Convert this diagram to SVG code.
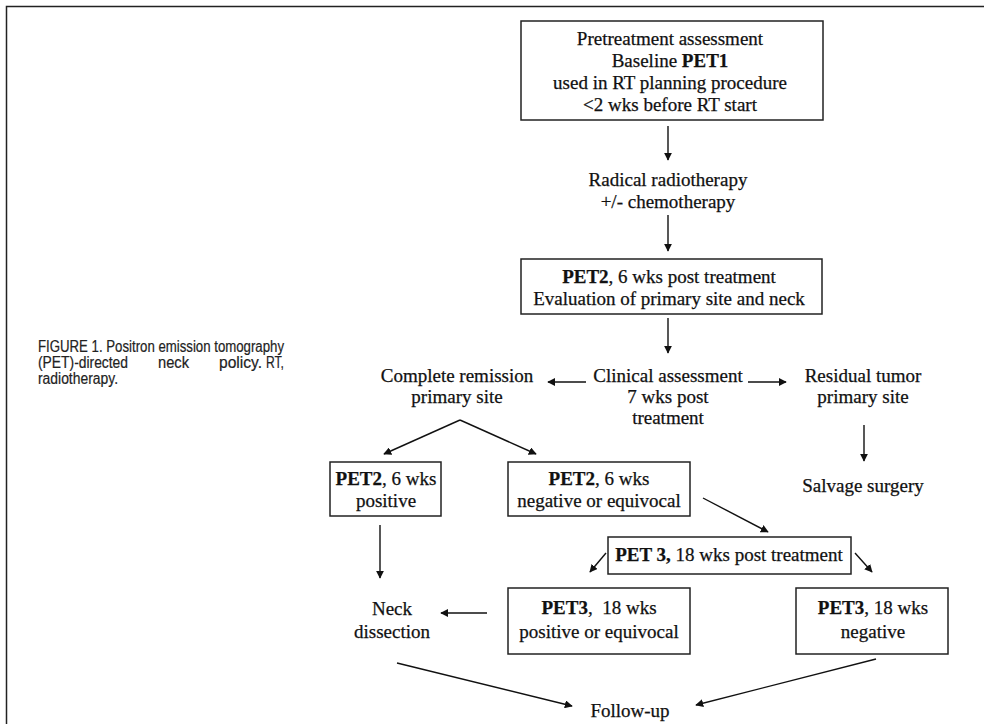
<svg xmlns="http://www.w3.org/2000/svg" width="984" height="724" viewBox="0 0 984 724">
<style>
.t{font-family:"Liberation Serif","Times New Roman",serif;font-size:19px;fill:#111;stroke:#111;stroke-width:0.25;text-anchor:middle}
.b{font-weight:bold}
.box{fill:#fff;stroke:#222;stroke-width:1.5}
.c{stroke:#111;stroke-width:1.4;fill:none}
.cap{font-family:"Liberation Sans",Arial,sans-serif;font-size:16px;fill:#222;stroke:#222;stroke-width:0.2}
</style>
<defs>
<marker id="ah" viewBox="0 0 10 10" refX="9" refY="5" markerWidth="8" markerHeight="8" markerUnits="userSpaceOnUse" orient="auto">
<path d="M0,0 L10,5 L0,10 Z" fill="#111"/>
</marker>
</defs>
<rect width="984" height="724" fill="#fff"/>
<g id="frame"><path d="M6.5,724 V6.5 H984" stroke="#222" stroke-width="1.5" fill="none"/></g>
<g id="caption" class="cap">
<text x="38" y="352" textLength="246" lengthAdjust="spacingAndGlyphs">FIGURE 1. Positron emission tomography</text>
<text x="38" y="368" textLength="90" lengthAdjust="spacingAndGlyphs">(PET)-directed</text>
<text x="158" y="368" textLength="31" lengthAdjust="spacingAndGlyphs">neck</text>
<text x="219" y="368" textLength="43" lengthAdjust="spacingAndGlyphs">policy.</text>
<text x="266" y="368" textLength="18" lengthAdjust="spacingAndGlyphs">RT,</text>
<text x="38" y="384" textLength="80" lengthAdjust="spacingAndGlyphs">radiotherapy.</text>
</g>
<g id="connectors">
<line class="c" x1="668" y1="126" x2="668" y2="160" marker-end="url(#ah)"/>
<line class="c" x1="668" y1="215" x2="668" y2="251" marker-end="url(#ah)"/>
<line class="c" x1="668" y1="318" x2="668" y2="353" marker-end="url(#ah)"/>
<line class="c" x1="586" y1="382" x2="548" y2="382" marker-end="url(#ah)"/>
<line class="c" x1="748" y1="382" x2="786" y2="382" marker-end="url(#ah)"/>
<line class="c" x1="864" y1="425" x2="864" y2="461" marker-end="url(#ah)"/>
<line class="c" x1="460" y1="420" x2="384" y2="454" marker-end="url(#ah)"/>
<line class="c" x1="460" y1="420" x2="536" y2="454" marker-end="url(#ah)"/>
<line class="c" x1="380" y1="525" x2="380" y2="578" marker-end="url(#ah)"/>
<line class="c" x1="703" y1="498" x2="768" y2="532" marker-end="url(#ah)"/>
<line class="c" x1="606" y1="553" x2="590" y2="572" marker-end="url(#ah)"/>
<line class="c" x1="855" y1="553" x2="872" y2="572" marker-end="url(#ah)"/>
<line class="c" x1="487" y1="613" x2="441" y2="613" marker-end="url(#ah)"/>
<line class="c" x1="397" y1="663" x2="572" y2="706" marker-end="url(#ah)"/>
<line class="c" x1="876" y1="659" x2="696" y2="705" marker-end="url(#ah)"/>
</g>
<g id="n-pretreatment">
<rect class="box" x="521" y="21" width="302" height="99"/>
<text class="t" x="670" y="45">Pretreatment assessment</text>
<text class="t" x="670" y="67">Baseline <tspan class="b">PET1</tspan></text>
<text class="t" x="670" y="89">used in RT planning procedure</text>
<text class="t" x="670" y="111">&lt;2 wks before RT start</text>
</g>
<g id="n-radical">
<text class="t" x="668" y="186">Radical radiotherapy</text>
<text class="t" x="668" y="208">+/- chemotherapy</text>
</g>
<g id="n-pet2">
<rect class="box" x="521" y="259" width="301" height="55"/>
<text class="t" x="669" y="283"><tspan class="b">PET2</tspan>, 6 wks post treatment</text>
<text class="t" x="669" y="305">Evaluation of primary site and neck</text>
</g>
<g id="n-complete">
<text class="t" x="457" y="382">Complete remission</text>
<text class="t" x="457" y="403">primary site</text>
</g>
<g id="n-clinical">
<text class="t" x="668" y="382">Clinical assessment</text>
<text class="t" x="668" y="403">7 wks post</text>
<text class="t" x="668" y="424">treatment</text>
</g>
<g id="n-residual">
<text class="t" x="863" y="382">Residual tumor</text>
<text class="t" x="863" y="403">primary site</text>
</g>
<g id="n-salvage">
<text class="t" x="863" y="492">Salvage surgery</text>
</g>
<g id="n-pet2pos">
<rect class="box" x="330" y="462" width="111" height="54"/>
<text class="t" x="386" y="485"><tspan class="b">PET2</tspan>, 6 wks</text>
<text class="t" x="386" y="507">positive</text>
</g>
<g id="n-pet2neg">
<rect class="box" x="508" y="462" width="182" height="54"/>
<text class="t" x="599" y="485"><tspan class="b">PET2</tspan>, 6 wks</text>
<text class="t" x="599" y="507">negative or equivocal</text>
</g>
<g id="n-pet3">
<rect class="box" x="608" y="537" width="243" height="37"/>
<text class="t" x="729" y="561"><tspan class="b">PET 3,</tspan> 18 wks post treatment</text>
</g>
<g id="n-pet3pos">
<rect class="box" x="508" y="588" width="182" height="66"/>
<text class="t" x="599" y="614" xml:space="preserve"><tspan class="b">PET3</tspan>,  18 wks</text>
<text class="t" x="599" y="638">positive or equivocal</text>
</g>
<g id="n-pet3neg">
<rect class="box" x="796" y="588" width="152" height="66"/>
<text class="t" x="873" y="614"><tspan class="b">PET3</tspan>, 18 wks</text>
<text class="t" x="873" y="638">negative</text>
</g>
<g id="n-neck">
<text class="t" x="392" y="615">Neck</text>
<text class="t" x="392" y="638">dissection</text>
</g>
<g id="n-followup">
<text class="t" x="630" y="717">Follow-up</text>
</g>
</svg>
